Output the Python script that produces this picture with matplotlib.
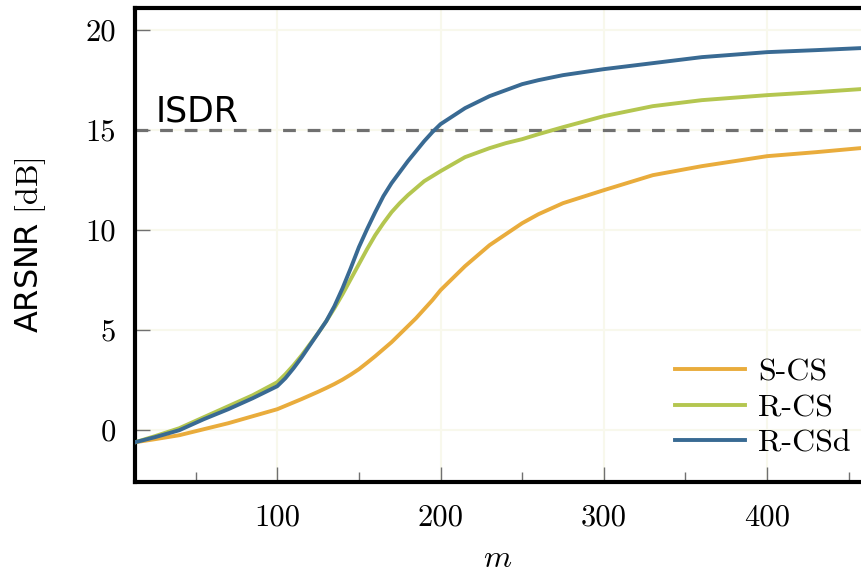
import numpy as np
import matplotlib.pyplot as plt
from matplotlib.ticker import MultipleLocator

# values
m = [13, 25, 40, 55, 70, 85, 100, 105, 110, 115, 120, 125, 130, 135, 140, 145,
     150, 155, 160, 165, 170, 175, 180, 185, 190, 195, 200, 215, 230, 240, 250,
     260, 275, 300, 330, 360, 400, 430, 457]
s_cs = [-0.6, -0.45, -0.25, 0.05, 0.35, 0.7, 1.05, 1.22, 1.39, 1.56, 1.74, 1.92,
        2.11, 2.31, 2.53, 2.78, 3.05, 3.37, 3.7, 4.05, 4.4, 4.8, 5.2, 5.6, 6.05,
        6.5, 7.0, 8.2, 9.25, 9.8, 10.35, 10.8, 11.35, 12.0, 12.75, 13.2, 13.7,
        13.9, 14.1]
r_cs = [-0.6, -0.3, 0.1, 0.65, 1.2, 1.75, 2.4, 2.8, 3.25, 3.75, 4.3, 4.85, 5.45,
        6.1, 6.8, 7.55, 8.3, 9.05, 9.75, 10.35, 10.9, 11.35, 11.75, 12.1, 12.45,
        12.7, 12.95, 13.65, 14.1, 14.35, 14.55, 14.8, 15.15, 15.7, 16.2, 16.5,
        16.75, 16.9, 17.05]
r_csd = [-0.6, -0.35, 0.0, 0.55, 1.05, 1.6, 2.2, 2.6, 3.1, 3.65, 4.25, 4.85, 5.45,
         6.2, 7.1, 8.1, 9.15, 10.05, 10.9, 11.7, 12.35, 12.9, 13.45, 13.95, 14.45,
         14.9, 15.3, 16.1, 16.7, 17.0, 17.3, 17.5, 17.75, 18.05, 18.35, 18.65,
         18.9, 19.0, 19.1]
isdr = 15

plt.rcParams['mathtext.fontset'] = 'cm'
serif = 'cmr10'
fs = 22

fig = plt.figure(figsize=(8.61, 5.81), dpi=100)
ax = fig.add_axes([0.157, 0.17, 0.843, 0.816])

ax.plot(m, s_cs, color='#e9ac3c', lw=2.8, label='S-CS', zorder=3)
ax.plot(m, r_cs, color='#b4c650', lw=2.8, label='R-CS', zorder=3)
ax.plot(m, r_csd, color='#396a93', lw=2.8, label='R-CSd', zorder=4)
ax.axhline(isdr, color='#707070', lw=2.3, ls=(0, (4, 3.7)), zorder=2)
ax.text(25.3, isdr + 0.1, 'ISDR', fontsize=25, family='DejaVu Sans', va='bottom')

ax.set_xlim(13, 457.5)
ax.set_ylim(-2.6, 21.1)
ax.xaxis.set_major_locator(MultipleLocator(100))
ax.xaxis.set_minor_locator(MultipleLocator(50))
ax.yaxis.set_major_locator(MultipleLocator(5))
ax.grid(True, which='major', color='#f8f8ec', lw=1.5, zorder=0)

ax.tick_params(which='major', direction='in', length=11, width=1, color='#707070',
               labelsize=fs, top=False, right=False)
ax.tick_params(which='minor', direction='in', length=7, width=1, color='#707070',
               top=False, right=False)
ax.tick_params(axis='x', pad=16)
ax.tick_params(axis='y', pad=14)
for lab in ax.get_xticklabels() + ax.get_yticklabels():
    lab.set_family(serif)

for side in ['top', 'left', 'bottom']:
    ax.spines[side].set_linewidth(3)
ax.spines['right'].set_visible(False)

ax.set_xlabel('$m$', fontsize=23, labelpad=8)
ax.set_ylabel('ARSNR $[\\mathrm{dB}]$', fontsize=23, family='DejaVu Sans', labelpad=27)

ax.legend(loc='lower right', bbox_to_anchor=(1.03, -0.015), frameon=False,
          prop={'family': serif, 'size': 23}, handlelength=2.2,
          handletextpad=0.4, labelspacing=0.22, borderaxespad=0.6)

fig.savefig('out.png', dpi=100)
